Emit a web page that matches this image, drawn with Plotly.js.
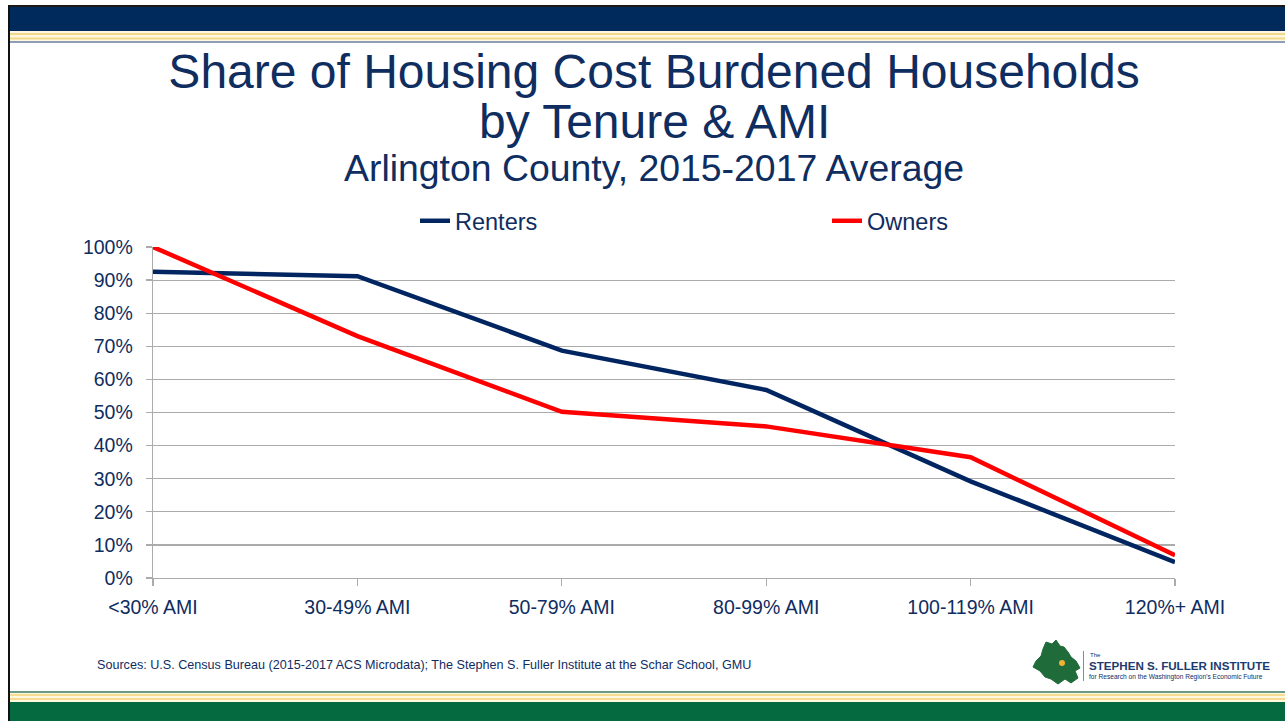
<!DOCTYPE html>
<html>
<head>
<meta charset="utf-8">
<script src="https://cdn.plot.ly/plotly-3.0.1.min.js"></script>
<style>
  html, body { margin: 0; padding: 0; background: #ffffff; }
  #chart { width: 1285px; height: 721px; }
</style>
</head>
<body>
<div id="chart"></div>
<script>
// ---- data ----
var categories = ['<30% AMI', '30-49% AMI', '50-79% AMI', '80-99% AMI', '100-119% AMI', '120%+ AMI'];
var renters = [0.925, 0.912, 0.687, 0.568, 0.292, 0.048];
var owners  = [1.000, 0.731, 0.502, 0.458, 0.365, 0.069];
var seriesNames = ['Renters', 'Owners'];

// ---- style ----
var W = 1285, H = 721;
var M = {l: 153, r: 110, t: 247, b: 143};
var PW = W - M.l - M.r, PH = H - M.t - M.b;
function px(x) { return (x - M.l) / PW; }
function py(y) { return (H - M.b - y) / PH; }

var NAVY_TXT = '#0f2d5f';
var NAVY_LINE = '#002560';
var RED = '#ff0000';
var GRID = '#ababab';
var SANS = '"Liberation Sans", Arial, sans-serif';

var traces = [
  {
    x: categories, y: renters, name: seriesNames[0], type: 'scatter', mode: 'lines',
    line: {color: NAVY_LINE, width: 4.5}, legend: 'legend', hoverinfo: 'x+y'
  },
  {
    x: categories, y: owners, name: seriesNames[1], type: 'scatter', mode: 'lines',
    line: {color: RED, width: 4.5}, legend: 'legend2', hoverinfo: 'x+y'
  }
];

function rect(x0, y0, x1, y1, color) {
  return {type: 'rect', xref: 'paper', yref: 'paper', layer: 'below',
    x0: px(x0), x1: px(x1), y0: py(y1), y1: py(y0),
    fillcolor: color, line: {width: 0}};
}

// green region map for the logo (decorative)
var mapPts = [[1046,642],[1052,644],[1056,640],[1060,646],[1064,647],[1068,652],[1071,657],[1076,661],[1080,668],[1075,671],[1078,678],[1071,683],[1065,679],[1058,684],[1051,679],[1045,677],[1040,671],[1033,667],[1036,661],[1041,656],[1043,649]];
var mapPath = mapPts.map(function (p, i) { return (i ? 'L' : 'M') + px(p[0]) + ',' + py(p[1]); }).join(' ') + ' Z';

var shapes = [
  // top band
  rect(8, 5, W, 7, '#1a1a1a'),
  rect(8, 7, W, 31, '#002a5c'),
  rect(10, 31, W, 41, '#fff7df'),
  rect(10, 33, W, 35, '#f2d98a'),
  rect(10, 37.5, W, 39.5, '#f2d98a'),
  rect(10, 41, W, 43, '#8c9fb6'),
  // bottom band
  rect(10, 691, W, 693, '#6c9a86'),
  rect(10, 693, W, 702, '#fff7df'),
  rect(10, 694, W, 696, '#f5dc90'),
  rect(10, 698, W, 700, '#f5dc90'),
  rect(8, 702, W, H, '#066a40'),
  // left border
  rect(8, 5, 10, H, '#111111'),
  // logo
  {type: 'path', xref: 'paper', yref: 'paper', layer: 'above', path: mapPath,
   fillcolor: '#1f6b3a', line: {color: '#1f6b3a', width: 1}},
  {type: 'circle', xref: 'paper', yref: 'paper', layer: 'above',
   x0: px(1059), x1: px(1065), y0: py(666), y1: py(660), fillcolor: '#f2b134', line: {width: 0}},
  {type: 'line', xref: 'paper', yref: 'paper', layer: 'above',
   x0: px(1083.5), x1: px(1083.5), y0: py(651), y1: py(681), line: {color: '#8a8a8a', width: 1}}
];

var annotations = [
  {text: 'by Tenure &amp; AMI', xref: 'paper', yref: 'paper', x: px(654), y: py(121),
   xanchor: 'center', yanchor: 'middle', showarrow: false,
   font: {family: SANS, size: 48, color: NAVY_TXT}},
  {text: 'Arlington County, 2015-2017 Average', xref: 'paper', yref: 'paper', x: px(654), y: py(168),
   xanchor: 'center', yanchor: 'middle', showarrow: false,
   font: {family: SANS, size: 37.4, color: NAVY_TXT}},
  {text: 'Sources: U.S. Census Bureau (2015-2017 ACS Microdata); The Stephen S. Fuller Institute at the Schar School, GMU',
   xref: 'paper', yref: 'paper', x: px(95), y: py(665), xanchor: 'left', yanchor: 'middle', showarrow: false,
   font: {family: SANS, size: 12.6, color: NAVY_TXT}},
  {text: 'The', xref: 'paper', yref: 'paper', x: px(1088), y: py(655), xanchor: 'left', yanchor: 'middle',
   showarrow: false, font: {family: SANS, size: 6, color: NAVY_TXT}},
  {text: '<b>STEPHEN S. FULLER INSTITUTE</b>', xref: 'paper', yref: 'paper', x: px(1087), y: py(665.5),
   xanchor: 'left', yanchor: 'middle', showarrow: false, font: {family: SANS, size: 11.6, color: '#1c3a6e'}},
  {text: 'for Research on the Washington Region\u2019s Economic Future', xref: 'paper', yref: 'paper',
   x: px(1087), y: py(677), xanchor: 'left', yanchor: 'middle', showarrow: false,
   font: {family: SANS, size: 6.6, color: NAVY_TXT}}
];

var legendCommon = {
  orientation: 'h', xref: 'paper', yref: 'paper', yanchor: 'middle', xanchor: 'left',
  bgcolor: 'rgba(0,0,0,0)', borderwidth: 0,
  font: {family: SANS, size: 23.5, color: NAVY_TXT}, itemclick: false, itemdoubleclick: false
};

var layout = {
  width: W, height: H,
  margin: {l: M.l, r: M.r, t: M.t, b: M.b, pad: 0},
  paper_bgcolor: '#ffffff', plot_bgcolor: '#ffffff',
  showlegend: true,
  title: {
    text: 'Share of Housing Cost Burdened Households',
    xref: 'container', yref: 'container', x: 654 / W, y: 1 - 71 / H,
    xanchor: 'center', yanchor: 'middle',
    font: {family: SANS, size: 48, color: NAVY_TXT}
  },
  legend: Object.assign({}, legendCommon, {x: px(415), y: py(221)}),
  legend2: Object.assign({}, legendCommon, {x: px(827), y: py(221)}),
  xaxis: {
    type: 'category', range: [0, categories.length - 1],
    showgrid: false, zeroline: false,
    showline: true, linecolor: GRID, linewidth: 1.3,
    ticks: 'outside', ticklen: 7, tickcolor: GRID, tickwidth: 1.3,
    tickfont: {family: SANS, size: 19.5, color: NAVY_TXT},
    ticklabelstandoff: 4, fixedrange: true
  },
  yaxis: {
    range: [0, 1], dtick: 0.1, tick0: 0, tickformat: '.0%',
    showgrid: true, gridcolor: GRID, gridwidth: 1.2, zeroline: false,
    showline: true, linecolor: GRID, linewidth: 1.3,
    ticks: 'outside', ticklen: 6, tickcolor: GRID, tickwidth: 1.3,
    tickfont: {family: SANS, size: 19.5, color: NAVY_TXT},
    ticklabelstandoff: 9, fixedrange: true
  },
  shapes: shapes,
  annotations: annotations
};

Plotly.newPlot('chart', traces, layout, {displayModeBar: false, responsive: false, staticPlot: true});
</script>
</body>
</html>
